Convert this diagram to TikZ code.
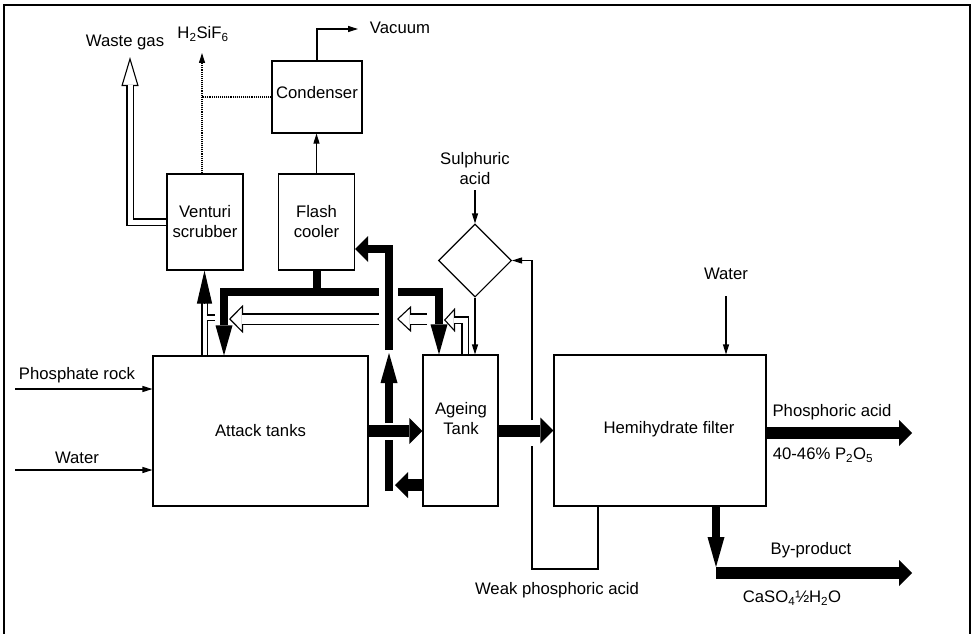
\documentclass[tikz,border=0pt]{standalone}
\usepackage{fontspec}
\setmainfont{Liberation Sans}
\usepackage{tikz}
\usetikzlibrary{arrows.meta,positioning,shapes.geometric,calc}
\tikzset{
    plantbox/.style={draw, line width=1.1pt, align=center, inner sep=0pt, font=\fontsize{16.7}{20}\selectfont},
    plantdose/.style={diamond, draw, line width=1.1pt, aspect=1, inner sep=0pt, minimum width=73pt, minimum height=73pt},
    plantlabel/.style={align=center, inner sep=0pt, font=\fontsize{16.7}{20}\selectfont},
    plantline/.style={line width=1.1pt},
    plantarrow/.style={line width=1.1pt, -{Triangle[length=10pt,width=6pt]}},
    plantflow/.style={line width=12pt, -{Triangle[length=13pt,width=26pt,line width=0pt]}},
    plantpipe/.style={line width=8pt},
    plantpipearrow/.style={line width=8pt, -{Triangle[length=30pt,width=17pt,line width=0pt]}},
    plantgas/.style={line width=#1+2.4pt, postaction={draw=white, line width=#1}},
    plantgashead/.style={line width=1.1pt, -{Triangle[fill=white,#1]}}
}
\begin{document}
\begin{tikzpicture}[x=1pt, y=-1pt]
    \useasboundingbox (0,0) rectangle (974,634);
    \draw[line width=1.2pt] (4,634) -- (4,5) -- (970,5) -- (970,634);

    \node[plantbox, minimum width=215pt, minimum height=150pt] (attack) at (260.5,431) {Attack tanks};
    \node[plantbox, minimum width=75pt, minimum height=151pt] (ageing) at (460.5,430.5) {};
    \node[plantlabel] (ageinglabel) at (461,419) {Ageing\\Tank};
    \node[plantbox, minimum width=212pt, minimum height=151pt] (filter) at (660,430.5) {};
    \node[plantlabel] (filterlabel) at (669,429) {Hemihydrate filter};
    \node[plantbox, minimum width=76pt, minimum height=96pt] (venturi) at (205,222) {Venturi\\scrubber};
    \node[plantbox, minimum width=76pt, minimum height=96pt] (flash) at (316.5,222) {Flash\\cooler};
    \node[plantbox, minimum width=90pt, minimum height=72pt] (condenser) at (317,97) {};
    \node[plantlabel] (condenserlabel) at (317,93) {Condenser};
    \node[plantdose] (dosing) at (475,260.5) {};

    \node[plantlabel] (wastegas) at (125,42) {Waste gas};
    \node[plantlabel] (fluoride) at (203,34) {H\textsubscript{2}SiF\textsubscript{6}};
    \node[plantlabel] (vacuumlabel) at (400,28) {Vacuum};
    \node[plantlabel] (sulphuric) at (475,169) {Sulphuric\\acid};
    \node[plantlabel] (rocklabel) at (77,375) {Phosphate rock};
    \node[plantlabel] (waterlabel) at (77,458) {Water};
    \node[plantlabel] (washlabel) at (726,274) {Water};
    \node[plantlabel] (productlabel) at (832,412) {Phosphoric acid};
    \node[plantlabel] (strengthlabel) at (823,455) {40-46\% P\textsubscript{2}O\textsubscript{5}};
    \node[plantlabel] (byproductlabel) at (811,550) {By-product};
    \node[plantlabel] (gypsumlabel) at (792,598) {CaSO\textsubscript{4}½H\textsubscript{2}O};
    \node[plantlabel] (weaklabel) at (557,590) {Weak phosphoric acid};

    \coordinate (rockin) at (15,389);
    \coordinate (waterin) at (15,470);
    \coordinate (washin) at (726,296);
    \coordinate (acidin) at (475,190);
    \coordinate (vacuumout) at (358,29);
    \coordinate (fluorideout) at (202,53);
    \draw[plantarrow] (rockin) -- (rockin -| attack.west);
    \draw[plantarrow] (waterin) -- (waterin -| attack.west);
    \draw[plantarrow] (washin) -- (washin |- filter.north);
    \draw[plantarrow] (acidin) -- (dosing.north);
    \draw[plantarrow] (dosing.south) -- (dosing.south |- ageing.north);
    \draw[plantarrow] (flash.north) -- (flash.north |- condenser.south);
    \draw[plantarrow] (condenser.north) |- (vacuumout);
    \draw[plantarrow, densely dotted] (fluorideout |- venturi.north) -- (fluorideout);
    \draw[plantline, densely dotted] (condenser.west) -- (condenser.west -| fluorideout);

    \coordinate (weakout) at (598,569);
    \coordinate (weakriser) at (532,569);
    \coordinate (weakgaplow) at (532,446);
    \coordinate (weakgaphigh) at (532,420);
    \draw[plantline] (weakout |- filter.south) -- (weakout) -- (weakriser) -- (weakgaplow);
    \draw[plantarrow] (weakgaphigh) |- (dosing.east);

    \coordinate (acidout) at (912,433);
    \coordinate (gypsumdrop) at (716,567);
    \coordinate (gypsumout) at (912,573);
    \coordinate (returntip) at (395,485);
    \draw[plantflow] (attack.east) -- (attack.east -| ageing.west);
    \draw[plantflow] (ageing.east) -- (ageing.east -| filter.west);
    \draw[plantflow] (filter.east |- acidout) -- (acidout);
    \draw[plantpipearrow] (gypsumdrop |- filter.south) -- (gypsumdrop);
    \draw[plantflow] (gypsumdrop |- gypsumout) -- (gypsumout);
    \draw[plantflow] (returntip -| ageing.west) -- (returntip);

    \coordinate (riserbottom) at (389,491);
    \coordinate (riserlow) at (389,440);
    \coordinate (riserhigh) at (389,423);
    \coordinate (risertip) at (389,353);
    \coordinate (risertop) at (389,350);
    \coordinate (riserturn) at (389,249);
    \draw[plantpipe] (riserbottom) -- (riserlow);
    \draw[plantpipearrow] (riserhigh) -- (risertip);
    \draw[plantpipe, -{Triangle[length=13pt,width=26pt,line width=0pt]}] (risertop) -- (riserturn) -- (riserturn -| flash.east);

    \coordinate (headerleft) at (224,292);
    \coordinate (headerright) at (379,292);
    \coordinate (feedleft) at (398,292);
    \coordinate (feedright) at (439,292);
    \draw[plantpipe] (flash.south) -- (flash.south |- headerleft);
    \draw[plantpipearrow] (headerright) -- (headerleft) -- (headerleft |- attack.north);
    \draw[plantpipearrow] (feedleft) -- (feedright) -- (feedright |- ageing.north);

    \coordinate (wastetip) at (130,57);
    \coordinate (wastebase) at (130,86);
    \coordinate (wastejoin) at (130,84.5);
    \draw[plantgashead={length=29pt,width=17pt}] (wastebase) -- (wastetip);
    \draw[plantgas=5pt] (venturi.west) -| (wastejoin);

    \coordinate (venttip) at (229,319);
    \coordinate (ventbase) at (243,319);
    \coordinate (ventjoin) at (241.5,319);
    \coordinate (ventstart) at (379,319);
    \draw[plantgashead={length=14pt,width=28pt}] (ventbase) -- (venttip);
    \draw[plantgas=9pt] (ventstart) -- (ventjoin);

    \coordinate (gastip) at (397,319);
    \coordinate (gasbase) at (411,319);
    \coordinate (gasjoin) at (409.5,319);
    \coordinate (gasstart) at (427,319);
    \draw[plantgashead={length=14pt,width=26pt}] (gasbase) -- (gastip);
    \draw[plantgas=9pt] (gasstart) -- (gasjoin);

    \coordinate (ageingtip) at (444,320);
    \coordinate (ageingbase) at (455,320);
    \coordinate (ageingjoin) at (453.5,320);
    \coordinate (ageingvent) at (465,320);
    \draw[plantgashead={length=11pt,width=24pt}] (ageingbase) -- (ageingtip);
    \draw[plantgas=5pt] (ageingvent |- ageing.north) -- (ageingvent) -- (ageingjoin);

    \coordinate (scrubbase) at (204.5,303);
    \coordinate (stubstart) at (206.5,317.5);
    \coordinate (stubend) at (215,317.5);
    \draw[plantgas=4pt] (scrubbase |- attack.north) -- (scrubbase);
    \draw[plantgas=4pt] (stubstart) -- (stubend);
    \draw[plantline, -{Triangle[length=33pt,width=15pt]}] (scrubbase) -- (scrubbase |- venturi.south);
\end{tikzpicture}
\end{document}
